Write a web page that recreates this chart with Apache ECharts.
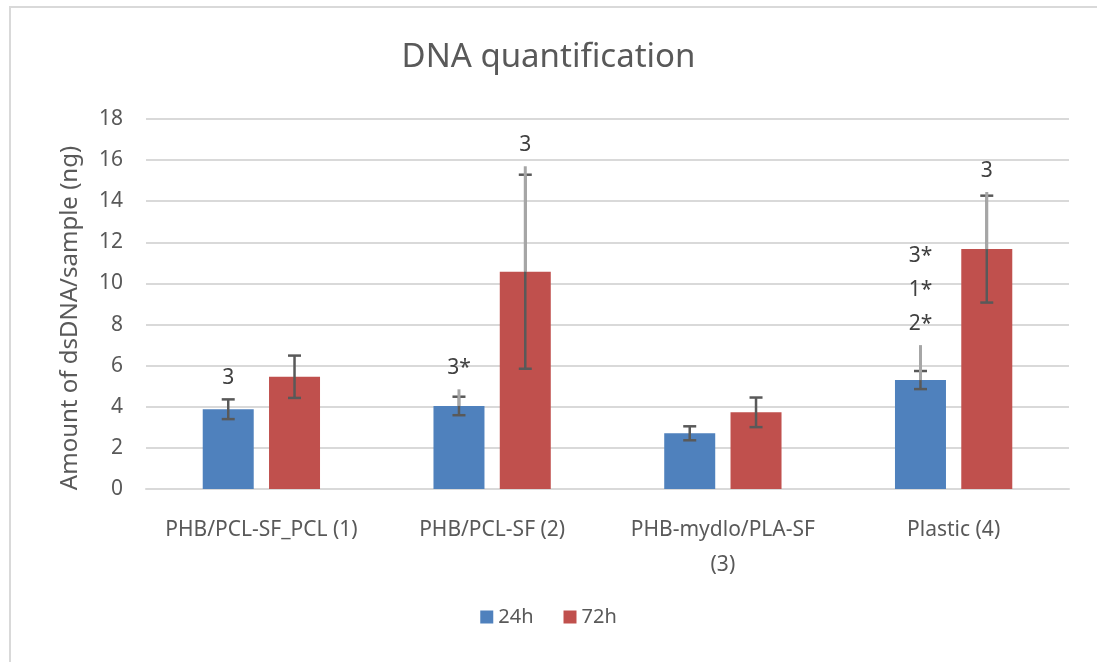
<!DOCTYPE html>
<html>
<head>
<meta charset="utf-8">
<title>DNA quantification</title>
<script src="https://cdn.jsdelivr.net/npm/echarts@6/dist/echarts.min.js"></script>
<style>
    html, body { margin: 0; padding: 0; background: #fff; }
    #chart { width: 1097px; height: 662px; }
</style>
</head>
<body>
<div id="chart"></div>
<script>
// data
const categories = ['PHB/PCL-SF_PCL (1)', 'PHB/PCL-SF (2)', 'PHB-mydlo/PLA-SF\n(3)', 'Plastic (4)'];
const seriesNames = ['24h', '72h'];
const mean24 = [3.88, 4.04, 2.71, 5.30];
const mean72 = [5.46, 10.57, 3.73, 11.67];
const sd24 = [0.48, 0.45, 0.34, 0.44];
const sd72 = [1.03, 4.72, 0.72, 2.60];
// extra plus-only whiskers (light grey), null = none
const ext24 = [null, 4.85, null, 7.0];
const ext72 = [null, 15.7, null, 14.45];
// n / significance notes above the bars
const note24 = ['3', '3*', '', '3*\n1*\n2*'];
const note72 = ['', '3', '', '3'];
const yTicks = { min: 0, max: 18, interval: 2 };

const FONT = "'Noto Sans', 'Open Sans', sans-serif";
const BAR_W = 51;
const BAR_GAP = 0.3;

var chartDom = document.getElementById('chart');
var myChart = echarts.init(chartDom);
var option;

function errorRender(side, notes) {
    return function (params, api) {
        const i = api.value(0);
        const m = api.value(1);
        const e = api.value(2);
        const ext = api.value(3);
        const offset = side * (BAR_W + BAR_W * BAR_GAP) / 2;
        const base = api.coord([i, m]);
        const cx = base[0] + offset;
        const top = api.coord([i, m + e])[1];
        const bot = api.coord([i, m - e])[1];
        const dark = { stroke: '#595959', lineWidth: 2.5 };
        const children = [
            { type: 'line', shape: { x1: cx, y1: top, x2: cx, y2: bot }, style: dark },
            { type: 'line', shape: { x1: cx - 6.5, y1: top, x2: cx + 6.5, y2: top }, style: dark },
            { type: 'line', shape: { x1: cx - 6.5, y1: bot, x2: cx + 6.5, y2: bot }, style: dark },
        ];
        let peak = top;
        if (!isNaN(ext)) {
            const extY = api.coord([i, ext])[1];
            children.push({
                type: 'line',
                shape: { x1: cx, y1: base[1], x2: cx, y2: extY },
                style: { stroke: '#a6a6a6', lineWidth: 3 },
            });
            peak = Math.min(peak, extY);
        }
        const note = notes[i];
        if (note) {
            children.push({
                type: 'text',
                style: {
                    text: note,
                    x: cx,
                    y: peak - 4,
                    align: 'center',
                    verticalAlign: 'bottom',
                    fill: '#404040',
                    fontSize: 21,
                    fontFamily: FONT,
                    lineHeight: 34,
                },
            });
        }
        return { type: 'group', children: children };
    };
}

function errorData(mean, sd, ext) {
    return mean.map((m, i) => [i, m, sd[i], ext[i] == null ? '-' : ext[i]]);
}

option = {
    backgroundColor: '#fff',
    animation: false,
    textStyle: { fontFamily: FONT },
    title: {
        text: 'DNA quantification',
        left: 'center',
        top: 36,
        textStyle: { fontSize: 33, fontWeight: 'normal', color: '#595959', fontFamily: FONT },
    },
    graphic: [{
        type: 'polyline',
        shape: { points: [[10, 662], [10, 7], [1097, 7]] },
        style: { stroke: '#d9d9d9', lineWidth: 2, fill: null },
        silent: true,
    }],
    legend: {
        data: seriesNames,
        bottom: 30,
        left: 'center',
        itemWidth: 13,
        itemHeight: 13,
        itemGap: 30,
        icon: 'rect',
        textStyle: { fontSize: 20, color: '#595959', fontFamily: FONT },
    },
    grid: { left: 146, right: 28, top: 119, bottom: 173 },
    xAxis: {
        type: 'category',
        data: categories,
        axisTick: { show: false },
        axisLine: { lineStyle: { color: '#d9d9d9', width: 2 } },
        axisLabel: {
            fontSize: 21,
            color: '#595959',
            margin: 24,
            lineHeight: 35,
            interval: 0,
        },
    },
    yAxis: {
        type: 'value',
        min: yTicks.min,
        max: yTicks.max,
        interval: yTicks.interval,
        name: 'Amount of dsDNA/sample (ng)',
        nameLocation: 'middle',
        nameGap: 64,
        nameTextStyle: { fontSize: 24, color: '#595959', padding: [0, 28, 0, 0] },
        axisLabel: { fontSize: 21, color: '#595959', margin: 23 },
        splitLine: { lineStyle: { color: '#d9d9d9', width: 2 } },
    },
    series: [
        {
            name: '24h',
            type: 'bar',
            barWidth: BAR_W,
            barGap: (BAR_GAP * 100) + '%',
            itemStyle: { color: '#4f81bd' },
            data: mean24,
        },
        {
            name: '72h',
            type: 'bar',
            barWidth: BAR_W,
            itemStyle: { color: '#c0504d' },
            data: mean72,
        },
        {
            name: '24h err',
            type: 'custom',
            renderItem: errorRender(-1, note24),
            data: errorData(mean24, sd24, ext24),
            z: 5,
        },
        {
            name: '72h err',
            type: 'custom',
            renderItem: errorRender(1, note72),
            data: errorData(mean72, sd72, ext72),
            z: 5,
        },
    ],
};

option && myChart.setOption(option);
</script>
</body>
</html>
